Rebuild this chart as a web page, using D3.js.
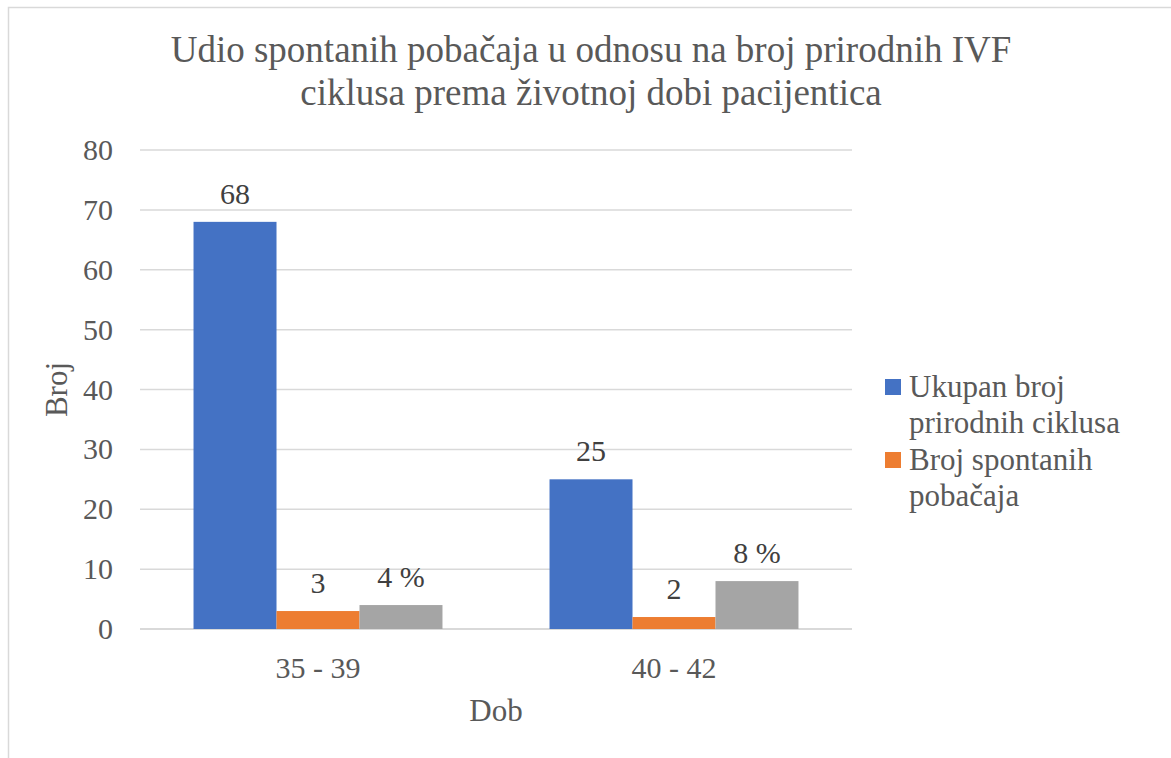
<!DOCTYPE html>
<html>
<head>
<meta charset="utf-8">
<script src="https://cdn.jsdelivr.net/npm/d3@7"></script>
<style>
  body { margin: 0; background: #fff; }
  svg text { font-family: "Liberation Serif", "Times New Roman", serif !important; }
</style>
</head>
<body>
<svg id="chart"></svg>
<script>
let w = 1171;
let h = 758;

// data
let categories = ["35 - 39", "40 - 42"];
let ukupno = [68, 25];
let pobacaji = [3, 2];
let postotak = [4, 8];
let seriesKeys = ["ukupno", "pobacaji", "postotak"];
let legendNames = [["Ukupan broj", "prirodnih ciklusa"], ["Broj spontanih", "pobačaja"]];
let titleLines = ["Udio spontanih pobačaja u odnosu na broj prirodnih IVF", "ciklusa prema životnoj dobi pacijentica"];
let yTicks = [0, 10, 20, 30, 40, 50, 60, 70, 80];

let colors = {ukupno: "#4472c4", pobacaji: "#ed7d31", postotak: "#a5a5a5"};
let serif = "'Liberation Serif', 'Times New Roman', serif";

let rows = categories.map((c, i) => ({
    cat: c,
    ukupno: ukupno[i],
    pobacaji: pobacaji[i],
    postotak: postotak[i]
}));

let fmt = (key, v) => key == "postotak" ? v + " %" : String(v);

let chart = d3.select("#chart")
    .attr("width", w)
    .attr("height", h);

// outer frame (only top and left edges fall inside the picture)
chart.append("rect")
    .attr("x", 8.5).attr("y", 7.5)
    .attr("width", 1300).attr("height", 900)
    .attr("fill", "none")
    .attr("stroke", "#d9d9d9")
    .attr("stroke-width", 1.5);

let plotL = 140, plotR = 852, plotT = 150, plotB = 629;

let x0 = d3.scaleBand()
    .domain(categories)
    .range([plotL, plotR])
    .paddingInner(0)
    .paddingOuter(0);

let x1 = d3.scaleBand()
    .domain(seriesKeys)
    .range([0, x0.bandwidth()])
    .paddingInner(0)
    .paddingOuter(0.645);

let y = d3.scaleLinear()
    .domain([0, 80])
    .range([plotB, plotT]);

// title
chart.append("g")
    .selectAll("text")
    .data(titleLines)
    .join("text")
    .attr("x", 591)
    .attr("y", (d, i) => 62 + i * 43)
    .attr("text-anchor", "middle")
    .style("font-family", serif)
    .attr("font-size", 37)
    .attr("fill", "#595959")
    .text(d => d);

// grid lines
chart.append("g")
    .selectAll("line")
    .data(yTicks)
    .join("line")
    .attr("x1", plotL).attr("x2", plotR)
    .attr("y1", d => y(d)).attr("y2", d => y(d))
    .attr("stroke", "#d9d9d9")
    .attr("stroke-width", d => d == 0 ? 2 : 1.5);

// y axis labels
let yAxis = d3.axisLeft(y).tickValues(yTicks).tickSize(0).tickPadding(0);
let yAxisGroup = chart.append("g")
    .attr("transform", `translate(113, 0)`)
    .call(yAxis);
yAxisGroup.select(".domain").remove();
yAxisGroup.attr("font-family", serif).attr("font-size", 30);
yAxisGroup.selectAll("text")
    .style("font-family", serif)
    .attr("font-size", 30)
    .attr("fill", "#595959");

// bars
let groups = chart.append("g")
    .selectAll("g")
    .data(rows)
    .join("g")
    .attr("transform", d => `translate(${x0(d.cat)}, 0)`);

let cells = groups.selectAll("g")
    .data(d => seriesKeys.map(k => ({key: k, value: d[k]})))
    .join("g");

cells.append("rect")
    .attr("x", d => x1(d.key))
    .attr("width", x1.bandwidth())
    .attr("y", d => y(d.value))
    .attr("height", d => y(0) - y(d.value))
    .attr("fill", d => colors[d.key]);

cells.append("text")
    .attr("x", d => x1(d.key) + x1.bandwidth() / 2)
    .attr("y", d => y(d.value) - 18)
    .attr("text-anchor", "middle")
    .style("font-family", serif)
    .attr("font-size", 30)
    .attr("fill", "#404040")
    .text(d => fmt(d.key, d.value));

// x axis labels
let xAxis = d3.axisBottom(x0).tickSize(0).tickPadding(0);
let xAxisGroup = chart.append("g")
    .attr("transform", `translate(0, 678)`)
    .call(xAxis);
xAxisGroup.select(".domain").remove();
xAxisGroup.attr("font-family", serif).attr("font-size", 30);
xAxisGroup.selectAll("text")
    .attr("dy", 0)
    .style("font-family", serif)
    .attr("font-size", 30)
    .attr("fill", "#595959");

// axis titles
chart.append("text")
    .attr("x", (plotL + plotR) / 2)
    .attr("y", 721)
    .attr("text-anchor", "middle")
    .style("font-family", serif)
    .attr("font-size", 31)
    .attr("fill", "#595959")
    .text("Dob");

chart.append("text")
    .attr("transform", `translate(67, ${(plotT + plotB) / 2}) rotate(-90)`)
    .attr("text-anchor", "middle")
    .style("font-family", serif)
    .attr("font-size", 31)
    .attr("fill", "#595959")
    .text("Broj");

// legend
let legend = chart.append("g")
    .selectAll("g")
    .data(legendNames)
    .join("g")
    .attr("transform", (d, i) => `translate(885, ${379 + i * 73})`);

legend.append("rect")
    .attr("width", 16)
    .attr("height", 16)
    .attr("fill", (d, i) => colors[seriesKeys[i]]);

legend.append("text")
    .style("font-family", serif)
    .attr("font-size", 31)
    .attr("fill", "#595959")
    .selectAll("tspan")
    .data(d => d)
    .join("tspan")
    .attr("x", 24)
    .attr("y", (d, i) => 18 + i * 36)
    .text(d => d);
</script>
</body>
</html>
